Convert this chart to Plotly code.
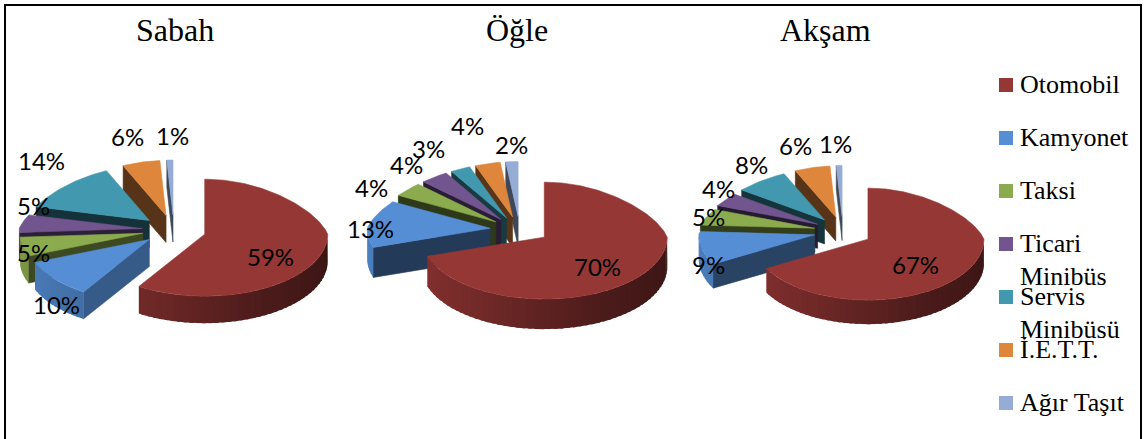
import numpy as np
import plotly.graph_objects as go

# Shares of vehicle types by time of day (percent)
categories = ["Otomobil", "Kamyonet", "Taksi", "Ticari Minibüs", "Servis Minibüsü", "İ.E.T.T.", "Ağır Taşıt"]
sabah = [59, 10, 5, 5, 14, 6, 1]
ogle = [70, 13, 4, 4, 3, 4, 2]
aksam = [67, 9, 5, 4, 8, 6, 1]
period_titles = ["Sabah", "Öğle", "Akşam"]

COLORS = ["#953735", "#558ed5", "#8cab4e", "#72558f", "#4198af", "#dd863c", "#95acd6"]

# Pixel layout of each tilted pie: centre, radii (horizontal, far, near), thickness, slice pull
PIES = [
    dict(values=sabah, cx=174, cy=230, a=123, far=55, near=62, depth=27, ex=32, ey=15, title_x=175),
    dict(values=ogle, cx=520, cy=229.5, a=123, far=55, near=62, depth=30, ex=30, ey=13, title_x=517),
    dict(values=aksam, cx=843, cy=231.5, a=116, far=51, near=61, depth=24, ex=29, ey=15, title_x=825),
]
# Far side of a pie narrows a little, as in a perspective view
FAR_NARROWING = 0.2

LABEL_XY = [
    [(270, 256), (56, 304), (33, 252), (33, 205), (41, 160), (127, 136), (172, 135)],
    [(597, 266), (370, 228), (371, 187), (406, 164), (428, 148), (467, 125), (511, 144)],
    [(915, 264), (708, 264), (708, 216), (718, 188), (751, 164), (795, 145), (835, 143)],
]
LEGEND_Y = [85, 138, 191, 244, 297, 350, 403]


def shade(hex_color, k):
    r, g, b = (int(hex_color[i:i + 2], 16) for i in (1, 3, 5))
    return f"rgb({int(r * k)},{int(g * k)},{int(b * k)})"


def rim_shade(deg):
    return float(np.interp(deg, [90, 150, 215, 270], [0.38, 0.5, 0.78, 0.92]))


def face_shade(deg):
    return float(np.interp(deg, [200, 250, 290, 350], [0.72, 0.42, 0.32, 0.42]))


def polygon(xs, ys, color, width=0.6):
    return go.Scatter(x=xs, y=ys, mode="lines", fill="toself", fillcolor=color,
                      line=dict(color=color, width=width), hoverinfo="skip", showlegend=False)


def rim_point(pie, ax, ay, deg):
    t = np.radians(deg)
    c = np.cos(t)
    horizontal = pie["a"] * (1 - FAR_NARROWING * max(c, 0))
    return ax + horizontal * np.sin(t), ay - (pie["far"] * c if c > 0 else pie["near"] * c)


fig = go.Figure()

for pie in PIES:
    values = np.array(pie["values"], dtype=float)
    ends = np.cumsum(values) / values.sum() * 360
    starts = ends - values / values.sum() * 360
    d = pie["depth"]
    # Painted back to front: the first slice sits nearest the viewer
    for i in range(len(values) - 1, -1, -1):
        t1, t2 = starts[i], ends[i]
        mid = np.radians((t1 + t2) / 2)
        ax = pie["cx"] + pie["ex"] * np.sin(mid)
        ay = pie["cy"] - pie["ey"] * np.cos(mid)
        color = COLORS[i]

        # Visible cut faces
        if np.sin(np.radians(t1)) < -1e-6:
            px, py = rim_point(pie, ax, ay, t1)
            fig.add_trace(polygon([ax, px, px, ax, ax], [ay, py, py + d, ay + d, ay],
                                  shade(color, face_shade(t1))))
        if np.sin(np.radians(t2)) > 1e-6:
            px, py = rim_point(pie, ax, ay, t2)
            fig.add_trace(polygon([ax, px, px, ax, ax], [ay, py, py + d, ay + d, ay],
                                  shade(color, face_shade(t2))))

        # Outer rim: overlapping strips give a smooth shading without seams
        lo, hi = max(t1, 90), min(t2, 270)
        if hi > lo:
            edges = np.linspace(lo, hi, int((hi - lo) / 3) + 2)
            for e1, e2 in zip(edges[:-1], edges[1:]):
                arc = np.linspace(e1, min(e2 + 1.5, hi), 4)
                pts = [rim_point(pie, ax, ay, e) for e in arc]
                xs = [p[0] for p in pts]
                ys = [p[1] for p in pts]
                fig.add_trace(polygon(xs + xs[::-1] + xs[:1],
                                      ys + [y + d for y in ys[::-1]] + ys[:1],
                                      shade(color, rim_shade((e1 + e2) / 2)), width=0))

        # Top surface
        arc = np.linspace(t1, t2, max(int(t2 - t1), 2) + 1)
        pts = [rim_point(pie, ax, ay, e) for e in arc]
        fig.add_trace(polygon([ax] + [p[0] for p in pts] + [ax],
                              [ay] + [p[1] for p in pts] + [ay], color))

# Legend swatches
fig.add_trace(go.Scatter(x=[1006] * len(categories), y=LEGEND_Y, mode="markers",
                         marker=dict(symbol="square", size=14, color=COLORS, line=dict(width=0)),
                         hoverinfo="skip", showlegend=False))

annotations = []
for pie, title in zip(PIES, period_titles):
    annotations.append(dict(x=pie["title_x"], y=30, text=title, showarrow=False,
                            font=dict(family="Liberation Serif", size=32, color="#000000")))
for pie, xy in zip(PIES, LABEL_XY):
    for v, (x, y) in zip(pie["values"], xy):
        annotations.append(dict(x=x, y=y, text=f"{v}%", showarrow=False,
                                font=dict(family="Lato", size=24, color="#000000")))
for name, y in zip(categories, LEGEND_Y):
    lines = name.split(" ") if "Minibüs" in name else [name]
    for k, line in enumerate(lines):
        annotations.append(dict(x=1018, y=y - 1 + k * 33, text=line, showarrow=False, xanchor="left",
                                font=dict(family="Liberation Serif", size=26, color="#000000")))

fig.update_layout(
    width=1147, height=439, margin=dict(l=0, r=0, t=0, b=0),
    paper_bgcolor="white", plot_bgcolor="white", showlegend=False,
    xaxis=dict(range=[0, 1147], visible=False, fixedrange=True),
    yaxis=dict(range=[439, 0], visible=False, fixedrange=True),
    annotations=annotations,
    shapes=[dict(type="rect", xref="x", yref="y", x0=5, x1=1141, y0=5, y1=445,
                 line=dict(color="#000000", width=2), fillcolor="rgba(0,0,0,0)")],
)

fig.write_html("out.html", config={"displayModeBar": False})
